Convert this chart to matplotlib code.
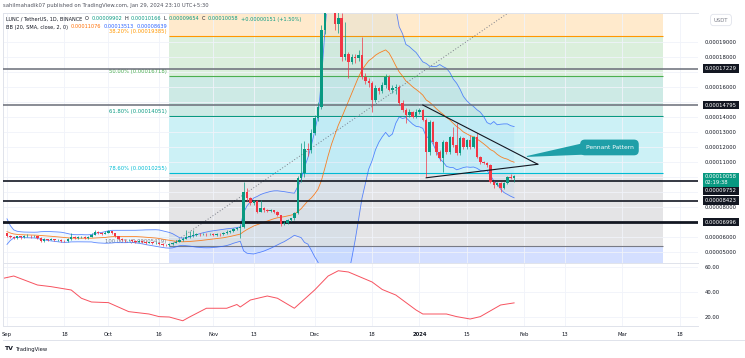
import numpy as np
import pandas as pd
import matplotlib
matplotlib.use("Agg")
import matplotlib.pyplot as plt
import matplotlib.dates as mdates
from matplotlib.patches import Polygon
from matplotlib.lines import Line2D

W, H = 745, 358
SCALE = 1e-5  # prices are kept in units of 0.00001 USDT

# daily LUNC / USDT candles, Sep 1 2023 - Jan 29 2024 (open = previous close)
dates = pd.date_range("2023-09-01", "2024-01-29", freq="D")
# Aug 12 - Aug 31 closes, only used to warm up the Bollinger bands
warmup = [8.40, 7.90, 7.20, 6.60, 6.40, 6.30, 6.20, 6.15, 6.20, 6.10,
          6.20, 6.15, 6.10, 6.20, 6.25, 6.15, 6.20, 6.30, 6.28, 6.25]
close = [6.10, 6.02, 5.95, 6.05, 6.00, 6.06, 6.10, 6.04, 6.08, 5.95,
         5.76, 5.85, 5.80, 5.86, 5.78, 5.81, 5.76, 5.72, 5.85, 6.00,
         5.95, 6.00, 6.02, 5.95, 6.00, 6.15, 6.35, 6.30, 6.22, 6.30,
         6.38, 6.28, 6.05, 5.85, 5.80, 5.78, 5.82, 5.76, 5.70, 5.75,
         5.68, 5.62, 5.65, 5.60, 5.62, 5.55, 5.50, 5.45, 5.55, 5.62,
         5.70, 5.78, 5.90, 6.00, 6.05, 6.15, 6.20, 6.18, 6.22, 6.18, 6.20,
         6.15, 6.22, 6.18, 6.25, 6.35, 6.40, 6.52, 6.60, 6.67, 9.00,
         8.60, 8.25, 8.40, 7.70, 7.95, 7.80, 7.72, 7.78, 7.70, 7.45,
         6.90, 6.95, 7.15, 7.25, 7.60, 9.93, 10.30, 11.90, 11.80, 12.90,
         13.90, 14.67, 19.80, 24.00, 25.00, 23.00, 20.20, 20.60, 18.00, 18.20,
         17.67, 18.00, 17.90, 18.13, 16.67, 16.40, 16.27, 15.13, 15.90, 15.75,
         16.10, 16.67, 15.80, 15.90, 16.00, 14.93, 14.47, 14.10, 14.33, 14.00, 14.33,
         14.47, 13.80, 11.67, 13.67, 12.33, 11.67, 11.27, 12.33, 11.67, 12.67,
         12.13, 11.60, 12.60, 12.00, 12.47, 12.00, 12.67, 11.33, 11.00, 10.93,
         10.80, 9.67, 9.47, 9.60, 9.27, 9.60, 10.00, 9.907, 10.058]
high = [6.30, 6.15, 6.05, 6.10, 6.10, 6.15, 6.20, 6.15, 6.12, 6.10,
        5.98, 5.95, 5.90, 5.95, 5.90, 5.86, 5.84, 5.82, 5.92, 6.30,
        6.10, 6.05, 6.08, 6.05, 6.05, 6.25, 6.45, 6.42, 6.35, 6.38,
        6.50, 6.42, 6.30, 6.08, 5.92, 5.85, 5.88, 5.85, 5.80, 5.80,
        5.78, 5.72, 5.70, 5.68, 5.66, 5.70, 5.60, 5.55, 5.60, 5.70,
        5.78, 5.85, 6.00, 6.45, 6.40, 6.50, 6.30, 6.25, 6.30, 6.28, 6.26,
        6.25, 6.30, 6.28, 6.32, 6.45, 6.50, 6.60, 6.70, 6.80, 9.65,
        9.30, 8.70, 8.50, 8.45, 8.50, 7.98, 7.85, 7.85, 7.80, 7.75,
        7.50, 7.10, 7.20, 7.30, 7.70, 10.10, 12.30, 12.40, 12.30, 13.20,
        14.10, 15.00, 20.10, 25.50, 27.50, 25.80, 23.20, 21.30, 20.90, 20.30,
        18.30, 18.20, 18.20, 18.47, 19.33, 16.90, 16.60, 16.40, 16.10, 16.00,
        16.30, 16.85, 16.80, 16.10, 16.20, 16.10, 15.10, 14.60, 14.50, 14.40, 14.50,
        14.60, 14.55, 13.90, 13.80, 13.75, 12.40, 11.80, 12.45, 12.40, 12.75,
        13.33, 13.60, 12.70, 12.65, 12.55, 12.80, 12.75, 12.93, 11.40, 11.05,
        11.00, 10.85, 9.75, 9.70, 9.65, 9.65, 10.05, 10.20, 10.166]
low = [6.00, 5.95, 5.85, 5.90, 5.90, 5.95, 6.00, 5.95, 6.00, 5.90,
       5.70, 5.70, 5.72, 5.78, 5.72, 5.74, 5.70, 5.65, 5.68, 5.82,
       5.90, 5.90, 5.95, 5.90, 5.90, 5.98, 6.12, 6.20, 6.15, 6.18,
       6.25, 6.20, 6.00, 5.80, 5.75, 5.70, 5.75, 5.70, 5.62, 5.65,
       5.62, 5.55, 5.58, 5.55, 5.56, 5.50, 5.42, 5.38, 5.40, 5.50,
       5.58, 5.65, 5.75, 5.85, 5.92, 6.00, 6.05, 6.10, 6.12, 6.10, 6.12,
       6.08, 6.10, 6.10, 6.15, 6.20, 6.28, 6.35, 6.45, 5.95, 6.60,
       8.40, 8.15, 8.15, 7.60, 7.65, 7.70, 7.65, 7.68, 7.62, 7.40,
       6.75, 6.80, 6.90, 7.05, 7.15, 7.55, 9.70, 10.00, 11.40, 11.60,
       12.80, 13.70, 14.50, 19.50, 22.00, 21.80, 19.80, 19.60, 17.70, 17.80,
       16.60, 17.50, 17.60, 17.70, 16.50, 16.20, 16.00, 14.33, 15.00, 15.50,
       15.60, 15.90, 15.70, 15.60, 15.50, 14.80, 14.30, 13.60, 14.00, 13.90, 13.95,
       14.20, 13.70, 10.00, 11.50, 12.20, 11.50, 11.10, 10.33, 11.55, 11.55,
       12.00, 11.50, 11.50, 11.90, 11.90, 11.90, 11.95, 11.25, 10.90, 10.85,
       10.70, 9.60, 9.27, 9.40, 9.00, 9.20, 9.55, 9.85, 9.654]

# ADX (14, 14)
adx_dates = ["2023-08-31", "2023-09-03", "2023-09-10", "2023-09-14", "2023-09-20",
             "2023-09-23", "2023-09-26", "2023-10-01", "2023-10-07", "2023-10-13",
             "2023-10-16", "2023-10-19", "2023-10-23", "2023-10-25", "2023-10-30",
             "2023-11-05", "2023-11-08", "2023-11-09", "2023-11-12", "2023-11-17",
             "2023-11-20", "2023-11-25", "2023-12-01", "2023-12-05", "2023-12-08",
             "2023-12-11", "2023-12-18", "2023-12-21", "2023-12-25", "2023-12-31",
             "2024-01-02", "2024-01-09", "2024-01-12", "2024-01-16", "2024-01-19",
             "2024-01-25", "2024-01-29"]
adx_vals = [51.0, 52.8, 45.6, 44.3, 41.6, 35.0, 32.0, 31.5, 24.3, 22.4,
            20.3, 20.0, 17.0, 20.0, 27.0, 27.0, 30.0, 28.0, 33.6, 36.8,
            35.0, 27.0, 41.6, 52.8, 57.0, 56.0, 48.0, 42.0, 37.6, 25.6,
            22.4, 22.4, 20.3, 18.4, 20.3, 29.6, 31.29]

# horizontal support / resistance lines
levels = [17.229, 14.795, 9.752, 8.423, 6.996]
level_colors = ["#6a6d78", "#6a6d78", "#131722", "#131722", "#131722"]
level_widths = [1.1, 1.1, 1.2, 1.2, 2.0]

# fib retracement drawing
fib_0, fib_1 = 28.017, 5.419
fib_start, fib_end = "2023-10-19", "2024-03-13"
fib_ratios = [0.236, 0.382, 0.5, 0.618, 0.786, 1.0, 1.618]
fib_colors = ["#f23645", "#ff9800", "#4caf50", "#089981", "#00bcd4", "#787b86", "#2962ff"]

# pennant drawing
tri_upper = (["2024-01-02", "2024-02-05"], [14.80, 10.85])
tri_lower = (["2024-01-03", "2024-02-05"], [9.95, 10.85])
callout_tip = ("2024-02-01 19:00", 11.37)
callout_box = ("2024-02-26 05:00", 11.97)

tick_dates = ["2023-09-01", "2023-09-18", "2023-10-01", "2023-10-16", "2023-11-01",
              "2023-11-13", "2023-12-01", "2023-12-18", "2024-01-01", "2024-01-15",
              "2024-02-01", "2024-02-13", "2024-03-01", "2024-03-18"]
tick_labels = ["Sep", "18", "Oct", "16", "Nov", "13", "Dec", "18", "2024", "15",
               "Feb", "13", "Mar", "18"]
price_ticks = list(range(5, 20))
hidden_ticks = [7, 9, 10, 15, 17]  # covered by the price boxes on the scale

GREEN, RED = "#089981", "#f23645"
TXT = "#131722"
FS = 3.8

fig = plt.figure(figsize=(W / 100, H / 100), dpi=100)


def frame(x0, y0, x1, y1):
    return [x0 / W, 1 - y1 / H, (x1 - x0) / W, (y1 - y0) / H]


ax = fig.add_axes(frame(3, 13, 698, 263))
ax2 = fig.add_axes(frame(3, 263, 698, 326), sharex=ax)

x = mdates.date2num(dates)
c = np.array(close)
o = np.array([warmup[-1]] + close[:-1])
hi = np.array(high)
lo = np.array(low)
up = c >= o
cols = np.where(up, GREEN, RED)

# bollinger bands
s = pd.Series(warmup + close)
mid = s.rolling(20).mean().values[len(warmup):]
sd = s.rolling(20).std(ddof=0).values[len(warmup):]
ub, lb = mid + 2 * sd, mid - 2 * sd

# fib zones
fs, fe = mdates.datestr2num(fib_start), mdates.datestr2num(fib_end)
lv = [fib_0 - r * (fib_0 - fib_1) for r in fib_ratios]
for i in range(1, len(lv)):
    ax.fill_between([fs, fe], lv[i - 1], lv[i], color=fib_colors[i], alpha=0.2,
                    lw=0, zorder=0.5)
for r, p, col in zip(fib_ratios, lv, fib_colors):
    ax.hlines(p, fs, fe, color=col, lw=0.8, zorder=1)
    ax.annotate(f"{r * 100:.2f}% ({p * SCALE:.8f})", xy=(fs, p), xytext=(-2, 1.5),
                textcoords="offset points", ha="right", va="bottom", fontsize=FS,
                color=col, zorder=1)
ax.plot([fs, fe], [fib_1, fib_0], ls=(0, (1, 2)), color="#787b86", lw=0.7, zorder=1)

ax.fill_between(x, lb, ub, color="#2196f3", alpha=0.06, lw=0, zorder=1.2)
ax.plot(x, ub, color="#2962ff", lw=0.6, alpha=0.75, zorder=2)
ax.plot(x, lb, color="#2962ff", lw=0.6, alpha=0.75, zorder=2)
ax.plot(x, mid, color="#ff6d00", lw=0.6, alpha=0.85, zorder=2)

for v, col, lw in zip(levels, level_colors, level_widths):
    ax.axhline(v, color=col, lw=lw, zorder=3)

# candles
ax.vlines(x, lo, hi, colors=cols, lw=0.5, zorder=4)
body = np.where(np.abs(c - o) < 0.03, 0.03, c - o)
ax.bar(x, body, bottom=o, width=0.72, color=cols, lw=0, zorder=4)

# pennant
for xs, ys in (tri_upper, tri_lower):
    ax.plot(mdates.datestr2num(xs), ys, color="#131722", lw=0.8, zorder=5)
tx, ty = mdates.datestr2num(callout_tip[0]), callout_tip[1]
bx, by = mdates.datestr2num(callout_box[0]), callout_box[1]
ax.add_patch(Polygon([(tx, ty + 0.03), (bx - 4, by + 0.48), (bx - 4, by - 0.45),
                      (tx, ty - 0.03)], closed=True, fc="#1f9fa8", ec="none", zorder=6))
ax.text(bx, by, "Pennant Pattern", ha="center", va="center", fontsize=4.3,
        color="white", zorder=7,
        bbox=dict(boxstyle="round,pad=0.9,rounding_size=0.8", fc="#1f9fa8", ec="none"))

ax.set_ylim(4.27, 20.93)
ax.set_xlim(x[0] - 1.18, x[0] + 204.4)
ax.set_yticks(price_ticks)
ax.set_yticklabels(["" if v in hidden_ticks else f"{v * SCALE:.8f}" for v in price_ticks])
ax.yaxis.tick_right()
ax.tick_params(axis="y", length=0, pad=5, labelsize=FS, labelcolor=TXT)
ax.tick_params(axis="x", length=0, labelbottom=False)
ax.set_xticks(mdates.datestr2num(tick_dates))
ax.grid(color="#f0f3fa", lw=0.6)
ax.set_axisbelow(True)


def price_box(v, text, fc, dy=0):
    ax.annotate(text, xy=(1, v), xycoords=("axes fraction", "data"), xytext=(5, dy),
                textcoords="offset points", ha="left", va="center", fontsize=FS,
                color="white", annotation_clip=False, zorder=10,
                bbox=dict(boxstyle="square,pad=0.35", fc=fc, ec="none"))


for v in levels:
    price_box(v, f"{v * SCALE:.8f}", "#131722", dy=-7.2 if v == 9.752 else 0)
price_box(close[-1], f"{close[-1] * SCALE:.8f}\n02:19:38", GREEN, dy=-2.6)

# ADX pane
ax2.plot(mdates.datestr2num(adx_dates), adx_vals, color="#f7525f", lw=0.7)
ax2.set_ylim(12.8, 63.2)
ax2.set_yticks([20, 40, 60])
ax2.set_yticklabels(["20.00", "40.00", "60.00"])
ax2.yaxis.tick_right()
ax2.tick_params(axis="y", length=0, pad=5, labelsize=FS, labelcolor=TXT)
ax2.set_xticks(mdates.datestr2num(tick_dates))
ax2.set_xticklabels(tick_labels)
ax2.tick_params(axis="x", length=0, pad=4, labelsize=FS, labelcolor=TXT)
for t in ax2.get_xticklabels():
    if t.get_text() == "2024":
        t.set_fontweight("bold")
ax2.grid(color="#f0f3fa", lw=0.6)
ax2.set_axisbelow(True)

for a in (ax, ax2):
    a.set_facecolor("white")
    for k, sp in a.spines.items():
        sp.set_color("#e0e3eb")
        sp.set_linewidth(0.7)
    a.spines["right"].set_visible(False)


def text_row(px, py, parts, size=FS, gap=1.8):
    prev = None
    for s_, col in parts:
        kw = dict(color=col, fontsize=size, va="center", ha="left",
                  annotation_clip=False)
        if prev is None:
            prev = ax.annotate(s_, xy=(px, H - py), xycoords="figure pixels", **kw)
        else:
            prev = ax.annotate(s_, xy=(1, 0.5), xycoords=prev, xytext=(gap, 0),
                               textcoords="offset points", **kw)


fig.text(3 / W, 1 - 6 / H,
         "sahilmahadik07 published on TradingView.com, Jan 29, 2024 23:10 UTC+5:30",
         fontsize=FS, color="#50535e", va="center")
text_row(6, 19, [("LUNC / TetherUS, 1D, BINANCE", TXT), ("O", TXT), ("0.00009902", GREEN),
                 ("H", TXT), ("0.00010166", GREEN), ("L", TXT), ("0.00009654", GREEN),
                 ("C", TXT), ("0.00010058", GREEN), ("+0.00000151 (+1.50%)", GREEN)],
         size=3.6)
text_row(6, 27, [("BB (20, SMA, close, 2, 0)", TXT), ("0.00011076", "#ff6d00"),
                 ("0.00013513", "#2962ff"), ("0.00008639", "#2962ff")], size=3.6)
text_row(6, 272, [("ADX (14, 14)", TXT), ("31.29", "#f7525f")], size=3.6)

fig.text(721 / W, 1 - 20 / H, "USDT", fontsize=FS, color="#787b86", ha="center",
         va="center", bbox=dict(boxstyle="round,pad=0.6", fc="white", ec="#e0e3eb", lw=0.6))
fig.add_artist(Line2D([3 / W, 1], [1 - 340 / H] * 2, color="#e0e3eb", lw=0.7))
fig.text(4 / W, 1 - 349 / H, "TV", fontsize=4.5, fontweight="bold", color=TXT, va="center")
fig.text(16 / W, 1 - 349 / H, "TradingView", fontsize=FS, color=TXT, va="center")

fig.savefig("out.png", dpi=100)
